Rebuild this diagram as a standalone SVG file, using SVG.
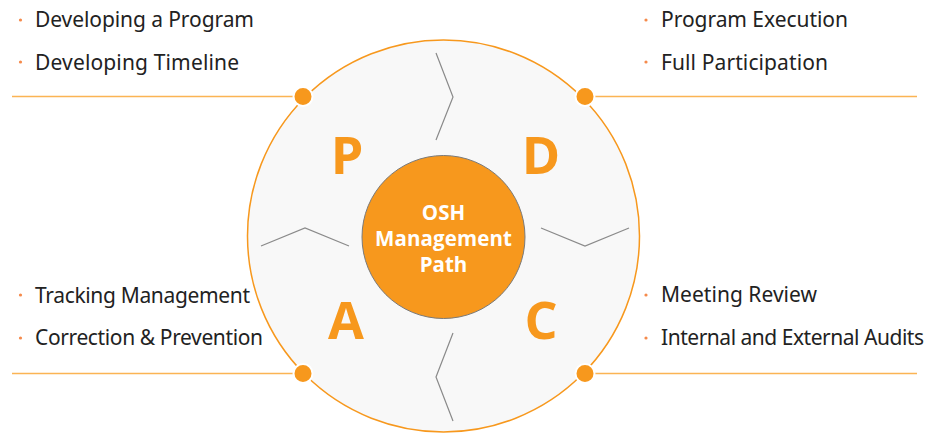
<svg xmlns="http://www.w3.org/2000/svg" width="927" height="433" viewBox="0 0 927 433">
<defs>
<style>
.item{font-family:"Noto Sans","Open Sans",sans-serif;font-size:21px;fill:#222}
.bul{fill:#f58a4b}
.rule{stroke:#fbb454;stroke-width:1.5;fill:none}
.zig{stroke:#8a8a8a;stroke-width:1.2;fill:none}
.dot{fill:#f7981d;stroke:#fff;stroke-width:2}
.big{font-family:"Open Sans","Noto Sans",sans-serif;font-weight:bold;font-size:52px;fill:#f7981d;text-anchor:middle}
.ctr{font-family:"Open Sans","Noto Sans",sans-serif;font-weight:bold;font-size:20.5px;fill:#fff;text-anchor:middle}
</style>
</defs>
<rect width="927" height="433" fill="#fff"/>
<g id="rules">
<line class="rule" x1="12" y1="96.5" x2="303" y2="96.5"/>
<line class="rule" x1="585" y1="96.5" x2="917" y2="96.5"/>
<line class="rule" x1="12" y1="373.5" x2="303" y2="373.5"/>
<line class="rule" x1="585" y1="373.5" x2="917" y2="373.5"/>
</g>
<g id="ring">
<circle cx="443.5" cy="236" r="196" fill="#f8f8f8" stroke="#f7981d" stroke-width="1.5"/>
</g>
<g id="connectors">
<polyline class="zig" points="436,53 453,97 436,140"/>
<polyline class="zig" points="453,333 436,377 453,421"/>
<polyline class="zig" points="261,246 305,228 349,246"/>
<polyline class="zig" points="541,228 585,246 629,228"/>
</g>
<g id="dots">
<circle class="dot" cx="303" cy="96.5" r="9.5"/>
<circle class="dot" cx="585" cy="96.5" r="9.5"/>
<circle class="dot" cx="303" cy="373.5" r="9.5"/>
<circle class="dot" cx="585" cy="373.5" r="9.5"/>
</g>
<g id="center">
<circle cx="443.5" cy="237" r="81.5" fill="#f7981d" stroke="#7a7a7a" stroke-width="1"/>
<text class="ctr" x="443.5" y="220">OSH</text>
<text class="ctr" x="443.5" y="246" textLength="137" lengthAdjust="spacing">Management</text>
<text class="ctr" x="443.5" y="272">Path</text>
</g>
<g id="P"><text class="big" x="347" y="174">P</text></g>
<g id="D"><text class="big" x="541" y="174">D</text></g>
<g id="A"><text class="big" x="346" y="339">A</text></g>
<g id="C"><text class="big" x="541" y="339">C</text></g>
<g id="plan-items">
<circle class="bul" cx="20.5" cy="20" r="1.6"/>
<text class="item" x="35" y="27" textLength="219" lengthAdjust="spacing">Developing a Program</text>
<circle class="bul" cx="20.5" cy="62" r="1.6"/>
<text class="item" x="35" y="70" textLength="204" lengthAdjust="spacing">Developing Timeline</text>
</g>
<g id="do-items">
<circle class="bul" cx="646" cy="20" r="1.6"/>
<text class="item" x="661" y="27" textLength="187" lengthAdjust="spacing">Program Execution</text>
<circle class="bul" cx="646" cy="62" r="1.6"/>
<text class="item" x="661" y="70" textLength="167" lengthAdjust="spacing">Full Participation</text>
</g>
<g id="act-items">
<circle class="bul" cx="20.5" cy="295" r="1.6"/>
<text class="item" x="35" y="303" textLength="215" lengthAdjust="spacing">Tracking Management</text>
<circle class="bul" cx="20.5" cy="338" r="1.6"/>
<text class="item" x="35" y="345" textLength="228" lengthAdjust="spacing">Correction &amp; Prevention</text>
</g>
<g id="check-items">
<circle class="bul" cx="646" cy="295" r="1.6"/>
<text class="item" x="661" y="302" textLength="156" lengthAdjust="spacing">Meeting Review</text>
<circle class="bul" cx="646" cy="338" r="1.6"/>
<text class="item" x="661" y="345" textLength="263" lengthAdjust="spacing">Internal and External Audits</text>
</g>
</svg>
